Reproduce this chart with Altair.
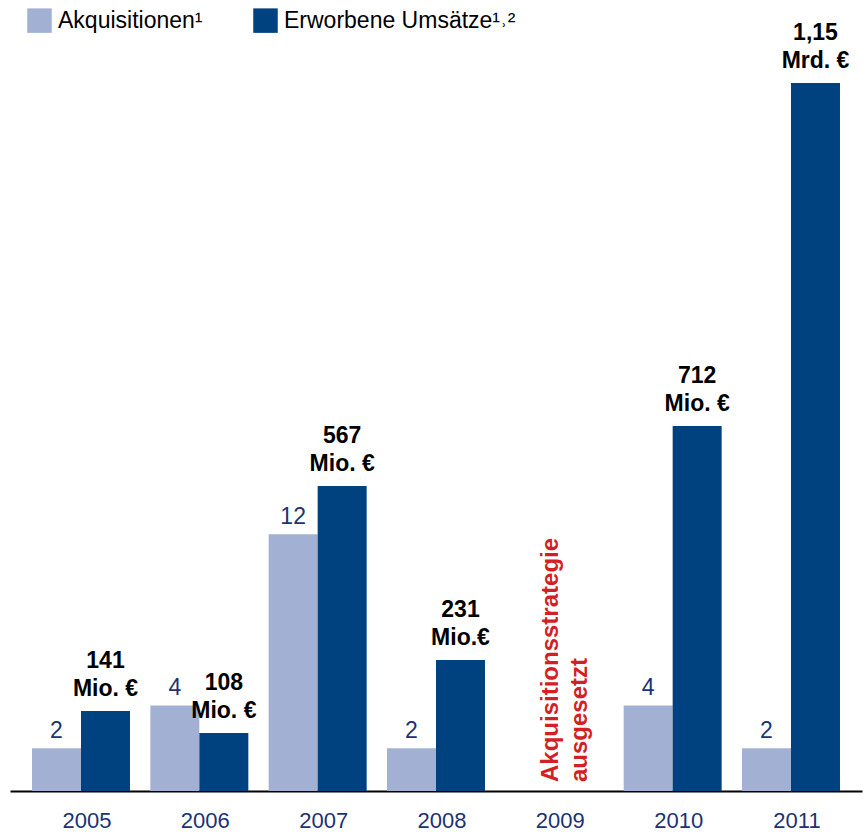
import altair as alt
import pandas as pd

# ---- data ----
jahre = ["2005", "2006", "2007", "2008", "2009", "2010", "2011"]
akquisitionen = [2, 4, 12, 2, None, 4, 2]
# drawn heights of the dark bars (relative units)
umsatz_balken = [80, 58, 305, 131, None, 365, 708]
umsatz_wert = ["141", "108", "567", "231", "", "712", "1,15"]
umsatz_einheit = ["Mio. €", "Mio. €", "Mio. €", "Mio.€", "", "Mio. €", "Mrd. €"]
serien = ["Akquisitionen¹", "Erworbene Umsätze¹˒²"]
hinweis_jahr = "2009"
hinweis_text = "Akquisitionsstrategie\nausgesetzt"

LIGHT = "#a2b1d3"
DARK = "#00427f"
NAVY = "#1b3373"
RED = "#d41f26"
FONT = "Liberation Sans"

light_df = pd.DataFrame({
    "jahr": jahre,
    "serie": serien[0],
    "wert": akquisitionen,
})
light_df = light_df.dropna()
light_df["label"] = light_df["wert"].astype(int).astype(str)

dark_df = pd.DataFrame({
    "jahr": jahre,
    "serie": serien[1],
    "wert": umsatz_balken,
    "zahl": umsatz_wert,
    "einheit": umsatz_einheit,
})
dark_df = dark_df.dropna()

note_df = pd.DataFrame({"jahr": [hinweis_jahr], "text": [hinweis_text], "null": [0]})

x_scale = alt.Scale(domain=jahre, range=[10, 862], paddingInner=0.172, paddingOuter=0.186)
x_enc = alt.X(
    "jahr:N",
    scale=x_scale,
    axis=alt.Axis(
        title=None, labelAngle=0, ticks=False, grid=False,
        domainColor="black", domainWidth=2,
        labelFont=FONT, labelFontSize=22, labelColor=NAVY,
        labelPadding=19, labelOffset=6,
    ),
)
xo_enc = alt.XOffset("serie:N", scale=alt.Scale(domain=serien, paddingInner=0, paddingOuter=0))
color_enc = alt.Color(
    "serie:N",
    scale=alt.Scale(domain=serien, range=[LIGHT, DARK]),
    legend=alt.Legend(
        title=None, orient="none", legendX=27, legendY=8, direction="horizontal",
        symbolType="square", symbolSize=600, symbolStrokeWidth=0,
        labelFont=FONT, labelFontSize=23, labelColor="black", labelLimit=0,
        labelOffset=6, columnPadding=50, padding=0,
    ),
)

y_light = alt.Y("wert:Q", scale=alt.Scale(domain=[0, 791 / 21.4], nice=False, zero=True), axis=None)
y_dark = alt.Y("wert:Q", scale=alt.Scale(domain=[0, 791], nice=False, zero=True), axis=None)

light_bars = alt.Chart(light_df).mark_bar(size=49).encode(x=x_enc, xOffset=xo_enc, y=y_light, color=color_enc)
light_text = alt.Chart(light_df).mark_text(
    font=FONT, fontSize=23, color=NAVY, baseline="alphabetic", dy=-10
).encode(x=x_enc, xOffset=xo_enc, y=y_light, text="label:N")
light_layer = alt.layer(light_bars, light_text)

dark_bars = alt.Chart(dark_df).mark_bar(size=49).encode(x=x_enc, xOffset=xo_enc, y=y_dark, color=color_enc)
dark_t1 = alt.Chart(dark_df).mark_text(
    font=FONT, fontSize=23, fontWeight="bold", color="black", baseline="alphabetic", dy=-43
).encode(x=x_enc, xOffset=xo_enc, y=y_dark, text="zahl:N")
dark_t2 = alt.Chart(dark_df).mark_text(
    font=FONT, fontSize=23, fontWeight="bold", color="black", baseline="alphabetic", dy=-15
).encode(x=x_enc, xOffset=xo_enc, y=y_dark, text="einheit:N")
dark_layer = alt.layer(dark_bars, dark_t1, dark_t2)

note = alt.Chart(note_df).mark_text(
    font=FONT, fontSize=24, fontWeight="bold", color=RED, angle=270,
    align="left", baseline="alphabetic", lineBreak="\n", lineHeight=29, dx=9, dy=4,
).encode(
    x=x_enc,
    y=alt.Y("null:Q", scale=alt.Scale(domain=[0, 791], nice=False, zero=True), axis=None),
    text="text:N",
)

chart = alt.layer(light_layer, dark_layer, note).resolve_scale(y="independent").properties(
    width=865, height=791,
    padding={"left": 0, "top": 0, "right": 0, "bottom": 44},
    autosize=alt.AutoSizeParams(type="none"),
    background="white",
).configure_view(stroke=None)

chart.save("out.html", embed_options={"renderer": "svg", "actions": False})
